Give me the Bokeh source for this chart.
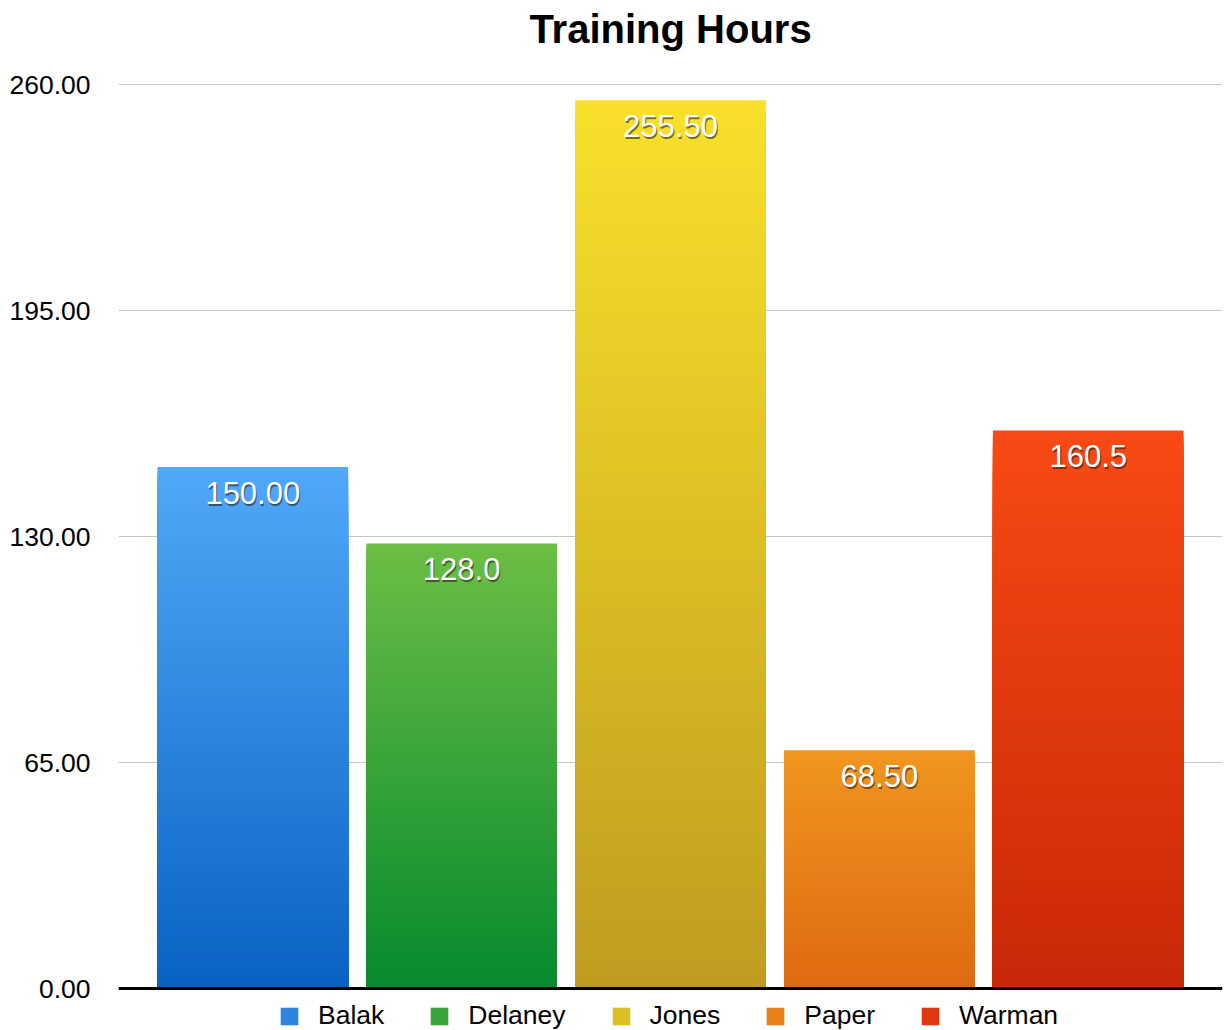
import numpy as np
from bokeh.plotting import figure
from bokeh.models import Range1d, FixedTicker, Legend, LegendItem, ColumnDataSource, Span, Label
from bokeh.embed import file_html
from bokeh.resources import INLINE

# ---- data ----
names = ["Balak", "Delaney", "Jones", "Paper", "Warman"]
hours = [150.0, 128.0, 255.5, 68.5, 160.5]
bar_labels = ["150.00", "128.0", "255.50", "68.50", "160.5"]
top_colors = ["#52a8f8", "#6cbe45", "#f9e02b", "#f0961e", "#f84a14"]
bottom_colors = ["#0862c2", "#068a2e", "#bf9c1f", "#de6a12", "#c82808"]
y_ticks = [0, 65, 130, 195, 260]
y_tick_labels = ["0.00", "65.00", "130.00", "195.00", "260.00"]
title_text = "Training Hours"

FONT = "Liberation Sans"
BAR_W = 0.913
N_STRIPS = 90

# plot geometry: value axis 0..260 spans 904 px; frame extends 84 px above and 42 px below
PX_PER_UNIT = 904 / 260
Y_START = -42 / PX_PER_UNIT
Y_END = 260 + 84 / PX_PER_UNIT


def hex_to_rgb(h):
    h = h.lstrip("#")
    return np.array([int(h[i:i + 2], 16) for i in (0, 2, 4)], dtype=float)


def mix(c_bot, c_top, t):
    c = hex_to_rgb(c_bot) * (1 - t) + hex_to_rgb(c_top) * t
    return "#%02x%02x%02x" % tuple(int(round(v)) for v in c)


p = figure(
    frame_width=1104, frame_height=1030, title=None,
    x_range=Range1d(-0.643, 4.643), y_range=Range1d(Y_START, Y_END),
    x_axis_location=None,
    output_backend="svg", toolbar_location=None,
    min_border_left=118, min_border_right=6, min_border_top=0, min_border_bottom=0,
)
p.outline_line_color = None
p.background_fill_color = "white"
p.border_fill_color = "white"

p.xgrid.visible = False
p.ygrid.ticker = FixedTicker(ticks=y_ticks)
p.ygrid.grid_line_color = "#c6c6c6"
p.ygrid.grid_line_width = 1

ax = p.yaxis[0]
ax.ticker = FixedTicker(ticks=y_ticks)
ax.major_label_overrides = {t: l for t, l in zip(y_ticks, y_tick_labels)}
ax.axis_line_color = None
ax.major_tick_line_color = None
ax.minor_tick_line_color = None
ax.major_tick_out = 0
ax.major_tick_in = 0
ax.major_label_standoff = 28
ax.major_label_text_font = FONT
ax.major_label_text_font_size = "26.5px"
ax.major_label_text_color = "black"

# ---- gradient bars: stacked strips (bottom = 0, top = fraction of value) ----
items = []
for i, (name, v) in enumerate(zip(names, hours)):
    ks = list(range(N_STRIPS - 1, -1, -1))
    tops = [v * (k + 1) / N_STRIPS for k in ks]
    cols = [mix(bottom_colors[i], top_colors[i], (k + 0.5) / N_STRIPS) for k in ks]
    src = ColumnDataSource(dict(
        left=[i - BAR_W / 2] * N_STRIPS, right=[i + BAR_W / 2] * N_STRIPS,
        bottom=[0] * N_STRIPS, top=tops, color=cols,
    ))
    r = p.quad(left="left", right="right", bottom="bottom", top="top",
               fill_color="color", line_color=None, source=src)
    items.append(LegendItem(label=name, renderers=[r], index=N_STRIPS // 2))

# ---- value labels with shadow ----
lab_src = ColumnDataSource(dict(x=list(range(len(names))), y=hours, text=bar_labels))
p.text(x="x", y="y", text="text", source=lab_src, text_align="center",
       text_baseline="middle", y_offset=28, x_offset=1,
       text_font={"value": FONT}, text_font_size="31px", text_color="#202020", text_alpha=0.6)
p.text(x="x", y="y", text="text", source=lab_src, text_align="center",
       text_baseline="middle", y_offset=26,
       text_font={"value": FONT}, text_font_size="31px", text_color="white")

# ---- base line ----
p.add_layout(Span(location=0, dimension="width", line_color="black", line_width=3))

# ---- title (inside the extended frame, above the value area) ----
p.add_layout(Label(x=552, y=1002, x_units="screen", y_units="screen", text=title_text,
                   text_align="center", text_baseline="middle",
                   text_font=FONT, text_font_size="40px", text_font_style="bold",
                   text_color="black"))

legend = Legend(
    items=items, orientation="horizontal", location=(160, -1),
    glyph_width=22, glyph_height=22, label_standoff=18, spacing=44,
    padding=2, margin=0, border_line_color=None, background_fill_alpha=0,
    label_text_font=FONT, label_text_font_size="26.5px", label_text_color="black",
)
p.add_layout(legend)

open("out.html", "w").write(file_html(p, INLINE))
